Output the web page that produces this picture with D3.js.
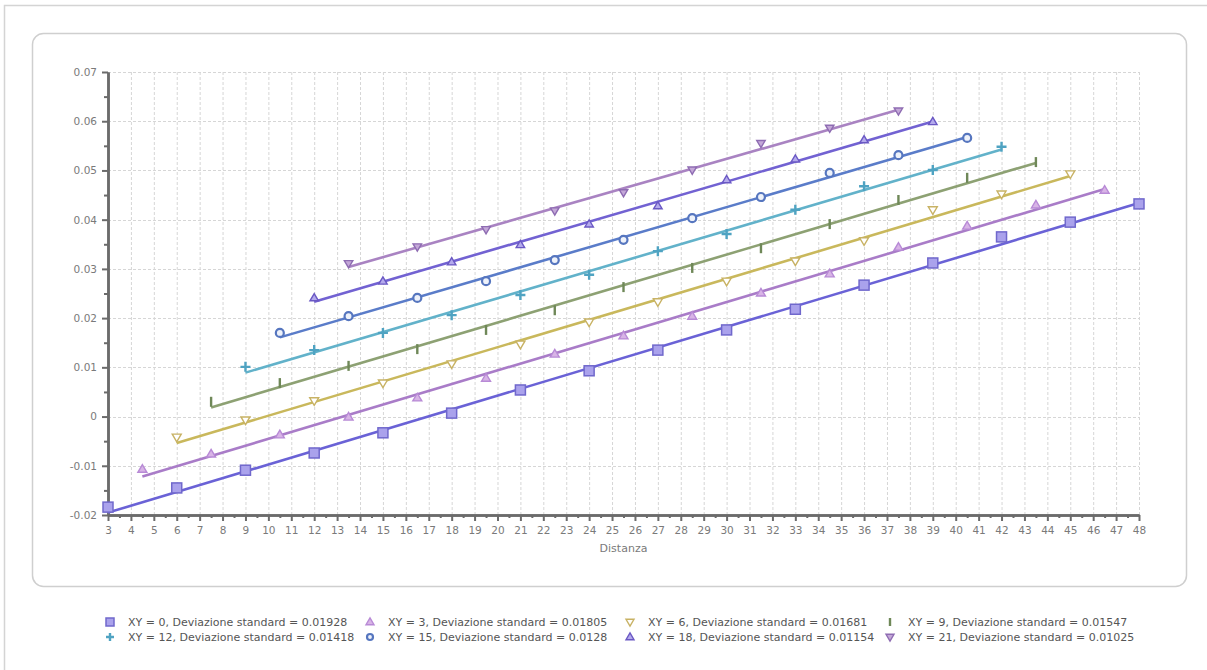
<!DOCTYPE html>
<html><head><meta charset="utf-8">
<script src="https://cdn.jsdelivr.net/npm/d3@7"></script>
<style>
body{margin:0;background:#fff;}
text{font-family:"DejaVu Sans",Verdana,sans-serif;}
</style></head>
<body><svg id="c" width="1207" height="670"></svg>
<script>
// ---------- data ----------
const seriesNames = ["XY = 0, Deviazione standard = 0.01928","XY = 3, Deviazione standard = 0.01805","XY = 6, Deviazione standard = 0.01681","XY = 9, Deviazione standard = 0.01547","XY = 12, Deviazione standard = 0.01418","XY = 15, Deviazione standard = 0.0128","XY = 18, Deviazione standard = 0.01154","XY = 21, Deviazione standard = 0.01025"];
const x0 = [3,6,9,12,15,18,21,24,27,30,33,36,39,42,45,48];
const y0 = [-0.0184,-0.0145,-0.0109,-0.0074,-0.0033,0.0007,0.0054,0.0093,0.0135,0.0176,0.0218,0.0267,0.0312,0.0365,0.0395,0.0432];
const x3 = [4.5,7.5,10.5,13.5,16.5,19.5,22.5,25.5,28.5,31.5,34.5,37.5,40.5,43.5,46.5];
const y3 = [-0.0107,-0.0076,-0.0037,-0.0001,0.0038,0.0078,0.0127,0.0164,0.0204,0.0251,0.0290,0.0344,0.0387,0.0430,0.0460];
const x6 = [6,9,12,15,18,21,24,27,30,33,36,39,42,45];
const y6 = [-0.0042,-0.0007,0.0032,0.0068,0.0107,0.0147,0.0192,0.0233,0.0275,0.0316,0.0357,0.0420,0.0452,0.0493];
const x9 = [7.5,10.5,13.5,16.5,19.5,22.5,25.5,28.5,31.5,34.5,37.5,40.5,43.5];
const y9 = [0.0030,0.0068,0.0103,0.0137,0.0176,0.0216,0.0263,0.0302,0.0342,0.0391,0.0440,0.0485,0.0517];
const x12 = [9,12,15,18,21,24,27,30,33,36,39,42];
const y12 = [0.0101,0.0135,0.0170,0.0206,0.0247,0.0288,0.0336,0.0371,0.0420,0.0468,0.0501,0.0548];
const x15 = [10.5,13.5,16.5,19.5,22.5,25.5,28.5,31.5,34.5,37.5,40.5];
const y15 = [0.0170,0.0204,0.0241,0.0275,0.0318,0.0359,0.0403,0.0446,0.0495,0.0531,0.0566];
const x18 = [12,15,18,21,24,27,30,33,36,39];
const y18 = [0.0241,0.0275,0.0314,0.0349,0.0391,0.0428,0.0481,0.0523,0.0562,0.0599];
const x21 = [13.5,16.5,19.5,22.5,25.5,28.5,31.5,34.5,37.5];
const y21 = [0.0311,0.0345,0.0380,0.0418,0.0455,0.0501,0.0555,0.0586,0.0621];
const xTicks = d3.range(3,49);
const yTickValues = [-0.02,-0.01,0,0.01,0.02,0.03,0.04,0.05,0.06,0.07];
const yTickLabels = ["-0.02","-0.01","0","0.01","0.02","0.03","0.04","0.05","0.06","0.07"];
const xTitle = "Distanza";

// ---------- styles ----------
const lineColors  = ["#6a62d6","#a97cc8","#c9b85c","#8da173","#62b2ca","#5a7cc9","#7262d2","#a983c2"];
const markStroke  = ["#7068cc","#b88ad6","#c8b264","#6f8858","#4fa3c2","#5676bf","#6a58c4","#8e6cb2"];
const markFill    = ["#aaa2ec","#d8b4e6","#fff","#fff","#fff","#eef2fa","#b4aaec","#c4a8d8"];
const markShape   = ["square","triUp","triDown","bar","plus","circle","triUp","triDown"];

const xs=[x0,x3,x6,x9,x12,x15,x18,x21], ys=[y0,y3,y6,y9,y12,y15,y18,y21];
const series = seriesNames.map((n,i)=>({name:n, pts:xs[i].map((x,j)=>({x, y:ys[i][j]})), i}));

const svg = d3.select("#c");
// frames
svg.append("rect").attr("x",4.5).attr("y",5.5).attr("width",1220).attr("height",700).attr("fill","none").attr("stroke","#d4d4d4").attr("stroke-width",1.5);
svg.append("rect").attr("x",32.5).attr("y",33.5).attr("width",1154).attr("height",553).attr("rx",11).attr("fill","#fff").attr("stroke","#cfcfcf").attr("stroke-width",1.5);

const L=108,R=1139,T=72,B=515;
const x = d3.scaleLinear().domain([3,48]).range([L,R]);
const y = d3.scaleLinear().domain([-0.02,0.07]).range([B,T]);

// grid
const g = svg.append("g");
g.selectAll(".vg").data(xTicks.slice(1)).join("line").attr("x1",d=>x(d)+0.5).attr("x2",d=>x(d)+0.5).attr("y1",T).attr("y2",B)
 .attr("stroke","#d6d6d6").attr("stroke-dasharray","3,2");
g.selectAll(".hg").data(yTickValues.slice(1)).join("line").attr("y1",d=>Math.round(y(d))+0.5).attr("y2",d=>Math.round(y(d))+0.5).attr("x1",L).attr("x2",R)
 .attr("stroke","#d6d6d6").attr("stroke-dasharray","3,2");

// axes
const axCol="#6b6b6b", lblCol="#7a7a7a";
const xAxis = d3.axisBottom(x).tickValues(xTicks).tickFormat(d3.format("d")).tickSize(6).tickSizeOuter(0);
const xa = svg.append("g").attr("transform",`translate(0,${B})`).call(xAxis);
const xMinor = d3.axisBottom(x).tickValues(xTicks.slice(0,-1).map(d=>d+0.5)).tickFormat("").tickSize(3).tickSizeOuter(0);
const xm = svg.append("g").attr("transform",`translate(0,${B})`).call(xMinor);
const yAxis = d3.axisLeft(y).tickValues(yTickValues).tickFormat((d,i)=>yTickLabels[i]).tickSize(6).tickSizeOuter(0);
const ya = svg.append("g").attr("transform",`translate(${L},0)`).call(yAxis);
const yMinor = d3.axisLeft(y).tickValues(yTickValues.slice(0,-1).map(d=>d+0.005)).tickFormat("").tickSize(4).tickSizeOuter(0);
const ym = svg.append("g").attr("transform",`translate(${L},0)`).call(yMinor);
[xa,xm,ya,ym].forEach(a=>{
  a.selectAll(".domain").attr("stroke",axCol).attr("stroke-width",2.5);
  a.selectAll(".tick line").attr("stroke",axCol).attr("stroke-width",2);
  a.selectAll("text").attr("fill",lblCol).attr("font-size",10.5).attr("font-family","DejaVu Sans Condensed, DejaVu Sans, sans-serif");
});
xa.selectAll("text").attr("dy","0.95em");
ya.selectAll("text").attr("dx","-2");
svg.append("text").attr("x",(L+R)/2).attr("y",552).attr("text-anchor","middle").attr("fill",lblCol).attr("font-size",11)
  .attr("font-family","DejaVu Sans Condensed, DejaVu Sans, sans-serif").text(xTitle);

// regression lines
function fit(pts){
  const mx=d3.mean(pts,p=>p.x), my=d3.mean(pts,p=>p.y);
  const b=d3.sum(pts,p=>(p.x-mx)*(p.y-my))/d3.sum(pts,p=>(p.x-mx)**2);
  return {a:my-b*mx,b};
}
const line=d3.line().x(d=>x(d.x)).y(d=>y(d.y));
series.forEach(s=>{
  const f=fit(s.pts); const ex=d3.extent(s.pts,p=>p.x);
  svg.append("path").datum(ex.map(v=>({x:v,y:f.a+f.b*v}))).attr("d",line).attr("fill","none")
    .attr("stroke",lineColors[s.i]).attr("stroke-width",2.6);
});

// markers
function drawMarker(sel, shape, i, sz){
  const st=markStroke[i], fi=markFill[i];
  if(shape==="square"){
    sel.append("rect").attr("x",-sz/2).attr("y",-sz/2).attr("width",sz).attr("height",sz).attr("fill",fi).attr("stroke",st).attr("stroke-width",1.5);
  } else if(shape==="triUp"){
    const h=sz*0.85;
    sel.append("path").attr("d",`M0,${-h*0.6}L${sz/2},${h*0.4}L${-sz/2},${h*0.4}Z`).attr("fill",fi).attr("stroke",st).attr("stroke-width",1.4);
  } else if(shape==="triDown"){
    const h=sz*0.85;
    sel.append("path").attr("d",`M0,${h*0.6}L${sz/2},${-h*0.4}L${-sz/2},${-h*0.4}Z`).attr("fill",fi).attr("stroke",st).attr("stroke-width",1.4);
  } else if(shape==="bar"){
    sel.append("line").attr("x1",0).attr("x2",0).attr("y1",-sz/2).attr("y2",sz/2).attr("stroke",st).attr("stroke-width",2.4);
  } else if(shape==="plus"){
    sel.append("path").attr("d",`M${-sz/2},0H${sz/2}M0,${-sz/2}V${sz/2}`).attr("stroke",st).attr("stroke-width",2.4);
  } else if(shape==="circle"){
    sel.append("circle").attr("r",sz/2-1).attr("fill",fi).attr("stroke",st).attr("stroke-width",2.2);
  }
}
const sizes=[10,9,9,10,10,10,8.5,8.5];
series.forEach(s=>{
  s.pts.forEach(p=>{
    const m=svg.append("g").attr("transform",`translate(${x(p.x)},${y(p.y)})`);
    drawMarker(m,markShape[s.i],s.i,sizes[s.i]);
  });
});

// legend
const leg=svg.append("g");
series.forEach(s=>{
  const col=s.i%4, row=Math.floor(s.i/4);
  const lx=110+col*260, ly=622+row*15;
  const m=leg.append("g").attr("transform",`translate(${lx},${ly})`);
  drawMarker(m,markShape[s.i],s.i,8);
  leg.append("text").attr("x",lx+18).attr("y",ly).attr("dy","0.35em").attr("font-size",11).attr("fill","#555")
    .attr("font-family","DejaVu Sans Condensed, DejaVu Sans, sans-serif").text(s.name);
});
</script></body></html>
